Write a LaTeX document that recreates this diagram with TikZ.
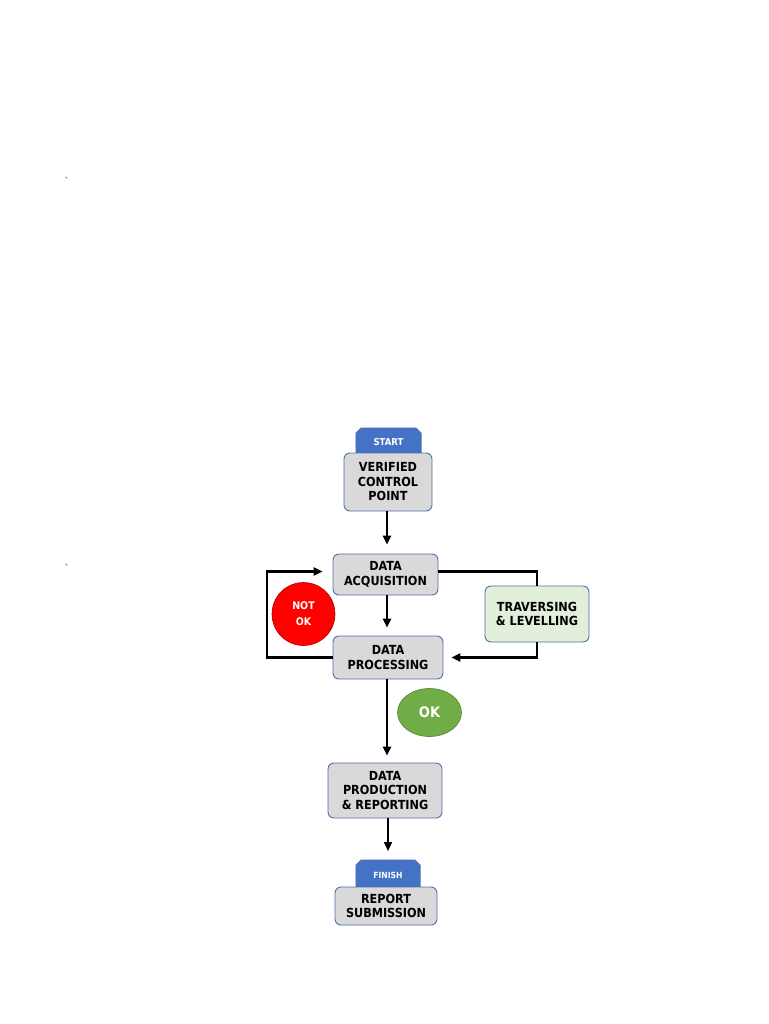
\documentclass[tikz,border=0pt]{standalone}
\usepackage{fontspec}
\setmainfont{DejaVu Sans Condensed}[BoldFont={DejaVu Sans Condensed Bold}]
\usetikzlibrary{arrows.meta,shapes.geometric}
\definecolor{boxgray}{HTML}{D9D9D9}
\definecolor{boxline}{HTML}{4F6FA8}
\definecolor{tabblue}{HTML}{4472C4}
\definecolor{greenbox}{HTML}{E2EFDA}
\definecolor{okgreen}{HTML}{70AD47}
\definecolor{okline}{HTML}{548235}
\definecolor{notred}{HTML}{FF0000}
\begin{document}
\begin{tikzpicture}[x=1pt,y=-1pt,
  procbox/.style={draw=boxline,line width=0.9pt,fill=boxgray,rounded corners=6pt,
    inner sep=0pt,align=center,font=\fontsize{12.5}{14.5}\selectfont\bfseries},
  greenproc/.style={procbox,fill=greenbox},
  tabbox/.style={inner sep=0pt,text=white,font=\fontsize{9.5}{11}\selectfont\bfseries},
  tabshape/.style={fill=tabblue,draw=boxline,line width=0.6pt},
  arr/.style={draw=black,line width=2.2pt,-{Triangle[length=9pt,width=8pt]}},
  conn/.style={draw=black,line width=2.2pt},
  tick/.style={font=\fontsize{9}{9}\selectfont,inner sep=0pt}]
\useasboundingbox (0,0) rectangle (768,1024);

\node[tick] (t1) at (67,181) {ˋ};
\node[tick] (t2) at (67,568) {ˋ};

% start tab and first box
\node[tabbox,minimum width=65pt,minimum height=30pt,anchor=north] (start) at (388.5,428) {};
\fill[tabshape] (start.south west) -- ([yshift=-5pt]start.north west) -- ([xshift=5pt]start.north west)
  -- ([xshift=-5pt]start.north east) -- ([yshift=-5pt]start.north east) -- (start.south east) -- cycle;
\node[tabbox] (startlbl) at (388.5,442) {START};
\node[procbox,minimum width=88pt,minimum height=58pt] (vcp) at (388,482) {VERIFIED\\CONTROL\\POINT};

\node[procbox,minimum width=105pt,minimum height=41pt] (da) at (385.5,574.5) {DATA\\ACQUISITION};
\node[procbox,minimum width=110pt,minimum height=43pt] (dp) at (388,657.5) {DATA\\PROCESSING};
\node[greenproc,minimum width=104pt,minimum height=56pt] (tl) at (537,614) {TRAVERSING\\\& LEVELLING};

\node[circle,fill=notred,draw=notred!70!black,line width=0.6pt,minimum size=63pt,inner sep=0pt,
  text=white,align=center,font=\fontsize{10.5}{16}\selectfont\bfseries] (notok) at (303.5,614) {NOT\\OK};
\node[ellipse,fill=okgreen,draw=okline,line width=0.6pt,minimum width=64pt,minimum height=48pt,inner sep=0pt,
  text=white,font=\fontsize{14.5}{16}\selectfont\bfseries] (ok) at (429.5,712.5) {OK};

\node[procbox,minimum width=114pt,minimum height=55pt] (dpr) at (385,790.5) {DATA\\PRODUCTION\\\& REPORTING};

\node[tabbox,minimum width=64pt,minimum height=30pt,anchor=north] (finish) at (388,860) {};
\fill[tabshape] (finish.south west) -- ([yshift=-5pt]finish.north west) -- ([xshift=5pt]finish.north west)
  -- ([xshift=-5pt]finish.north east) -- ([yshift=-5pt]finish.north east) -- (finish.south east) -- cycle;
\node[tabbox,font=\fontsize{8.5}{10}\selectfont\bfseries] (finishlbl) at (388,875) {FINISH};
\node[procbox,minimum width=102pt,minimum height=38pt] (rs) at (386,906) {REPORT\\SUBMISSION};

% connectors
\coordinate (vcpb) at (387,511);
\draw[arr,shorten >=9pt] (vcpb) -- (vcpb |- da.north);
\coordinate (dab) at (387,595);
\draw[arr,shorten >=8pt] (dab) -- (dab |- dp.north);
\coordinate (dpb) at (387,679);
\draw[arr,shorten >=7pt] (dpb) -- (dpb |- dpr.north);
\coordinate (dprb) at (388,818);
\draw[arr,shorten >=9pt] (dprb) -- (dprb |- finish.north);

\coordinate (lft) at (267,657.5);
\draw[arr,shorten >=10pt] (dp.west) -- (lft) |- ([yshift=3pt]da.west);
\draw[conn] ([yshift=3pt]da.east) -| (tl.north);
\draw[arr,shorten >=8pt] (tl.south) |- (dp.east);
\end{tikzpicture}
\end{document}
